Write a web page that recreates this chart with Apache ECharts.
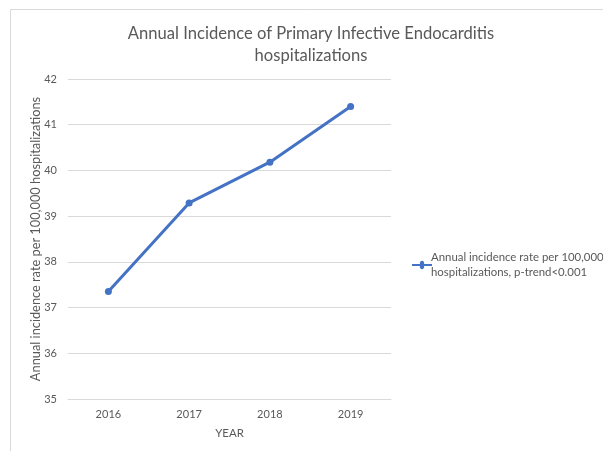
<!DOCTYPE html>
<html><head><meta charset="utf-8">
<script src="https://cdn.jsdelivr.net/npm/echarts@6/dist/echarts.min.js"></script>
<style>html,body{margin:0;padding:0;background:#fff}#c{width:603px;height:451px}</style>
</head><body><div id="c"></div>
<script>
const years = ['2016', '2017', '2018', '2019'];
const incidence = [37.35, 39.29, 40.18, 41.40];
const seriesName = 'Annual incidence rate per 100,000\nhospitalizations, p-trend<0.001';
const titleText = 'Annual Incidence of Primary Infective Endocarditis\nhospitalizations';
const xName = 'YEAR';
const yName = 'Annual incidence rate per 100,000 hospitalizations';

const FONT = 'Lato, "Open Sans", sans-serif';
const chart = echarts.init(document.getElementById('c'), null, {renderer: 'canvas'});
chart.setOption({
  animation: false,
  backgroundColor: '#fff',
  textStyle: {fontFamily: FONT},
  title: {
    text: titleText, left: 306, top: 18, textAlign: 'center',
    textStyle: {fontFamily: FONT, fontSize: 16.6, fontWeight: 'normal', color: '#595959', lineHeight: 22}
  },
  graphic: [
    {type: 'line', shape: {x1: 10.5, y1: 9.5, x2: 10.5, y2: 451}, style: {stroke: '#d9d9d9', lineWidth: 1}},
    {type: 'line', shape: {x1: 10.5, y1: 9.5, x2: 603, y2: 9.5}, style: {stroke: '#d9d9d9', lineWidth: 1}}
  ],
  grid: {left: 68, right: 212, top: 79, bottom: 52},
  legend: {
    left: 407, top: 245, orient: 'vertical',
    itemWidth: 20, itemHeight: 10, itemGap: 4,
    icon: 'path://M0,4 L8,4 A2.2,2.2 0 1 1 12,4 L20,4 L20,6 L12,6 A2.2,2.2 0 1 1 8,6 L0,6 Z',
    textStyle: {fontFamily: FONT, fontSize: 11.4, color: '#595959', lineHeight: 15, padding: [0,0,0,-6]},
    data: [seriesName]
  },
  xAxis: {
    type: 'category', data: years, boundaryGap: true,
    name: xName, nameLocation: 'middle', nameGap: 29,
    nameTextStyle: {fontFamily: FONT, fontSize: 11.4, color: '#595959'},
    axisLine: {lineStyle: {color: '#d9d9d9'}},
    axisTick: {show: false},
    axisLabel: {fontFamily: FONT, fontSize: 11, color: '#595959', margin: 10}
  },
  yAxis: {
    type: 'value', min: 35, max: 42, interval: 1,
    name: yName, nameLocation: 'middle', nameGap: 26, nameRotate: 90,
    nameMoveOverlap: false,
    nameTextStyle: {fontFamily: FONT, fontSize: 12.8, color: '#595959'},
    axisLine: {show: false}, axisTick: {show: false},
    splitLine: {lineStyle: {color: '#d9d9d9', width: 1}},
    axisLabel: {fontFamily: FONT, fontSize: 11, color: '#595959', margin: 11}
  },
  series: [{
    name: seriesName, type: 'line', data: incidence,
    symbol: 'circle', symbolSize: 7,
    lineStyle: {color: '#4472c4', width: 3},
    itemStyle: {color: '#4472c4'}
  }]
});
</script></body></html>
